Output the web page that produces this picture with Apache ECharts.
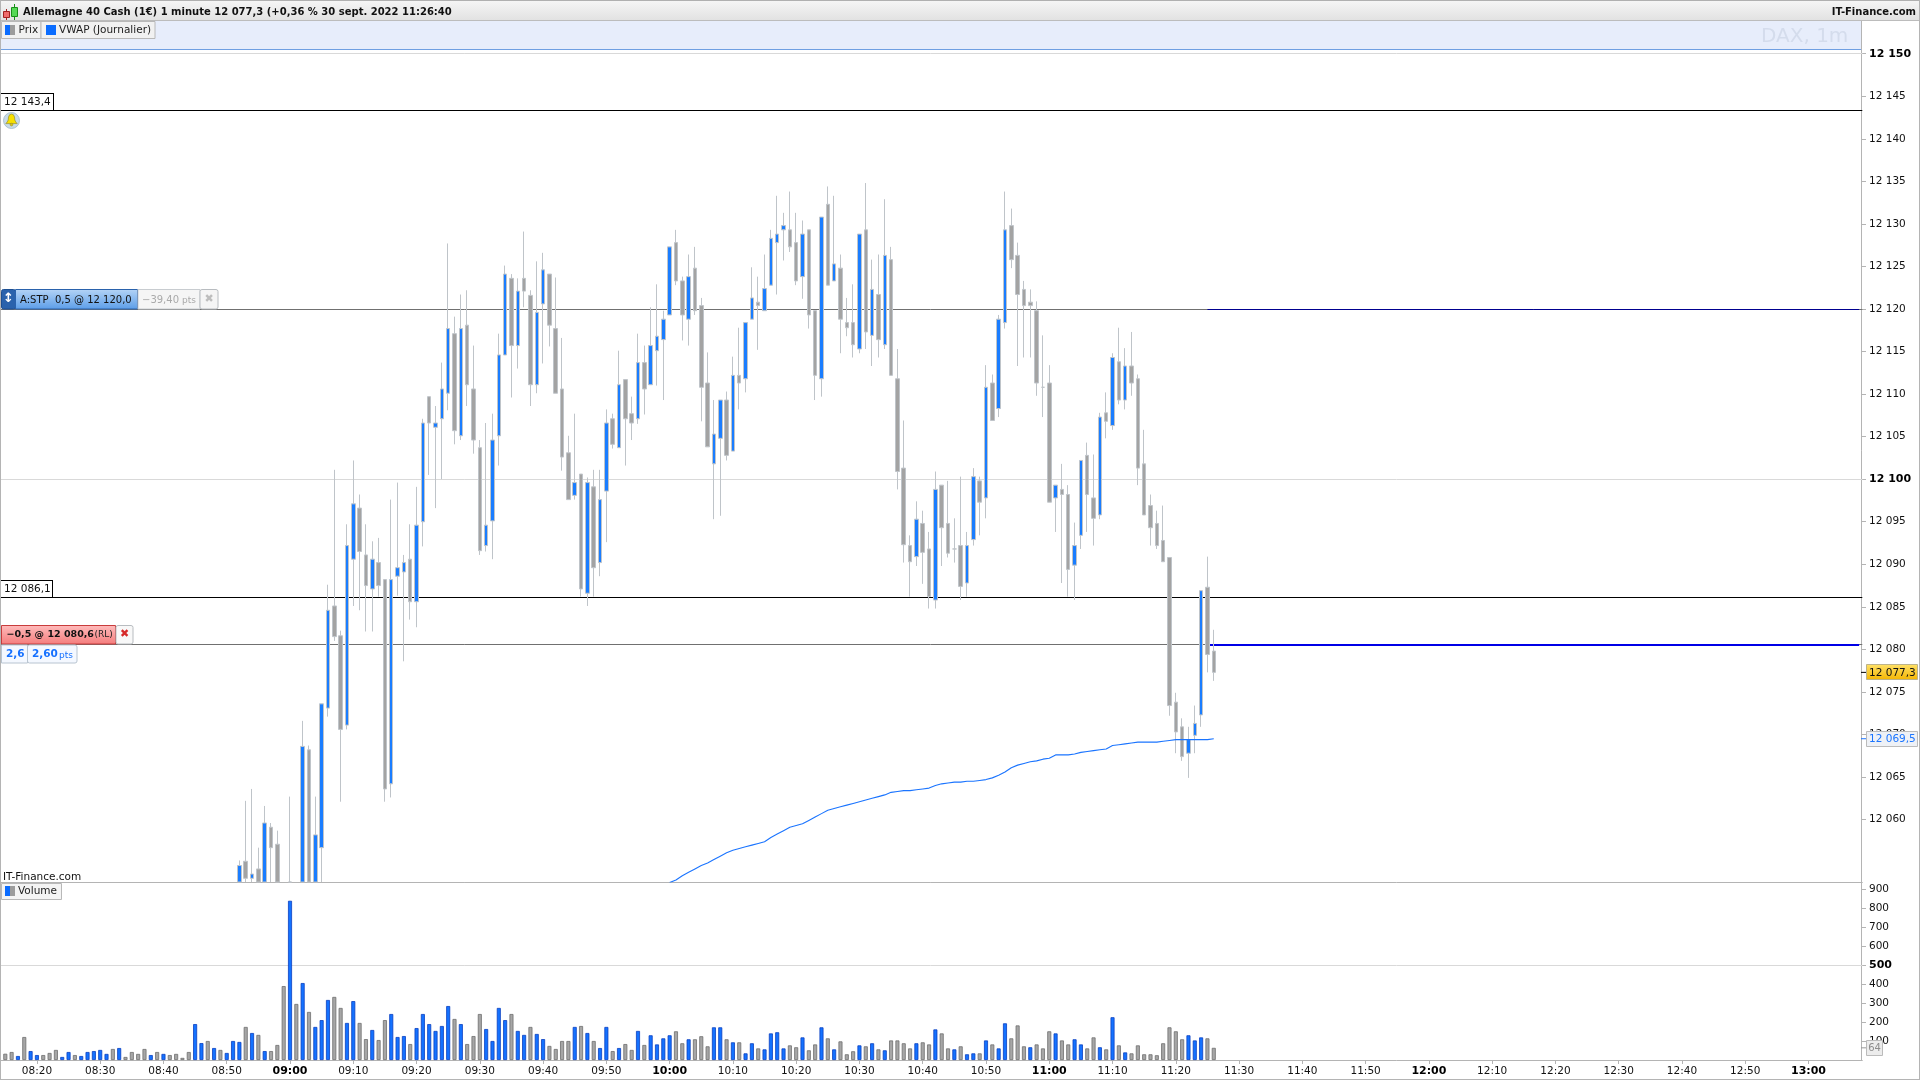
<!DOCTYPE html>
<html>
<head>
<meta charset="utf-8">
<title>Allemagne 40 Cash</title>
<script src="https://cdn.jsdelivr.net/npm/echarts@6/dist/echarts.min.js"></script>
<style>html,body{margin:0;padding:0;background:#fff}#c{width:1920px;height:1080px}</style>
</head>
<body>
<div id="c"></div>
<script>
// first category is 08:14; every bar is one minute
var startMinute = 494, categoryCount = 295;
var candleStart = 532, volumeStart = 495, vwapStart = 600;

var timeTicks = ['08:20','08:30','08:40','08:50','09:00','09:10','09:20','09:30','09:40','09:50','10:00','10:10','10:20','10:30','10:40','10:50','11:00','11:10','11:20','11:30','11:40','11:50','12:00','12:10','12:20','12:30','12:40','12:50','13:00'];
var priceTicks = [12060,12065,12070,12075,12080,12085,12090,12095,12100,12105,12110,12115,12120,12125,12130,12135,12140,12145,12150];
var volumeTicks = [100,200,300,400,500,600,700,800,900];

// open, close, low, high from 08:52 (null: entirely under the visible pane)
var candles = [
[12050,12054.6,12049,12055.2],[12055.1,12053.1,12051,12062.2],[12053.1,12053.6,12050,12063.6],[12054.2,12050,12049,12056.7],
[12050,12059.6,12049,12061.6],[12059.1,12056.7,12051,12059.6],[12057.1,12050,12049,12058.7],null,
[12044,12048,12042,12062.7],null,[12050,12068.6,12049,12071.6],[12068.2,12050,12049,12068.7],
[12050,12058.2,12049,12062.7],[12056.7,12073.6,12050,12073.6],[12073.1,12084.6,12072.1,12087.6],[12085.1,12081.5,12081,12101.1],
[12081.6,12070.6,12062.1,12082.2],[12071.1,12092.2,12070.6,12094.7],[12090.6,12097.1,12085.1,12102.2],[12096.6,12091.5,12084.6,12098.2],
[12091.1,12087.5,12082.1,12094.7],[12087.1,12090.6,12082.1,12092.7],[12090.2,12087.5,12086.2,12093.1],[12088.2,12063.6,12062.1,12088.2],
[12064.2,12088.2,12062.6,12097.6],[12088.6,12089.6,12086.3,12099.6],[12089.1,12090.2,12078.6,12091.1],[12090.6,12085.6,12083.5,12094.7],
[12085.6,12094.6,12082.6,12099.1],[12095,12106.6,12092.1,12107.1],[12109.7,12106.6,12100.5,12109.7],[12106.1,12106.6,12096.6,12108.6],
[12107.1,12110.6,12100,12113.7],[12110.1,12117.7,12108.1,12127.7],[12117.1,12105.7,12104.1,12119.1],[12105.1,12117.7,12104.6,12121.7],
[12118.1,12111.1,12108.6,12122.2],[12110.6,12104.6,12103,12115.7],[12103.7,12091.6,12091.1,12104.6],[12092.2,12094.6,12091.5,12106.6],
[12095.1,12104.6,12090.6,12107.7],[12105.1,12114.6,12101.6,12117.1],[12114.6,12124.1,12114.6,12125.1],[12123.6,12115.7,12109.6,12124.1],
[12115.7,12122.1,12113,12123.6],[12123.6,12122.1,12120.2,12129.1],[12121.6,12111.1,12108.6,12122.2],[12111.1,12119.6,12110.1,12125.6],
[12120.6,12124.6,12113.6,12126.6],[12124.1,12118.1,12115.6,12124.1],[12117.7,12110.1,12110.1,12123.7],[12110.6,12102.6,12101,12116.6],
[12103.1,12097.6,12097.6,12105.1],[12098.1,12099.6,12097.6,12107.7],[12100.6,12087.1,12086.2,12100.6],[12086.6,12099.6,12085.1,12100.2],
[12099.1,12089.6,12086.2,12101.1],[12090.2,12097.6,12088.6,12101.1],[12098.6,12106.6,12092.6,12108.2],[12107.1,12104.1,12103.6,12107.7],
[12103.7,12111.1,12103.7,12115.1],[12111.7,12107.1,12101.6,12111.7],[12107.7,12106.6,12104.6,12109.7],[12107.1,12113.7,12106.5,12117.1],
[12113.7,12110.6,12107.6,12115.7],[12111.1,12115.7,12111.1,12120.2],[12115.1,12116.8,12111,12122.9],[12116.4,12118.8,12109.3,12119.8],
[12119.3,12127.3,12119.3,12127.3],[12127.8,12123.3,12122.8,12129.3],[12123.3,12119.3,12116.3,12123.8],[12118.8,12123.8,12115.7,12126.4],
[12124.8,12119.8,12119.3,12127.3],[12120.4,12110.8,12106.8,12121.3],[12111.3,12103.8,12103.8,12114.9],[12101.8,12105.3,12095.3,12109.3],
[12104.8,12109.3,12095.7,12109.3],[12109.3,12102.8,12102.2,12110.3],[12103.3,12112.2,12103.3,12114.4],[12112.2,12111.3,12108.2,12117.8],
[12111.8,12118.4,12110.2,12118.4],[12118.8,12121.3,12118.8,12124.9],[12120.8,12120.4,12115.2,12123.8],[12119.8,12122.4,12119.8,12126.4],
[12122.8,12128.3,12122.8,12129.3],[12127.8,12128.8,12121.7,12133.3],[12129.3,12129.8,12125.7,12131.3],[12129.3,12127.3,12126.7,12133.8],
[12127.8,12123.3,12122.8,12131.3],[12123.8,12128.8,12121.2,12130.4],[12129.3,12119.3,12117.7,12129.3],[12119.8,12112.2,12109.3,12119.8],
[12111.8,12130.8,12109.7,12130.8],[12132.3,12122.8,12122.8,12134.4],[12123.3,12125.3,12123.3,12133.3],[12124.8,12118.8,12114.8,12126.4],
[12118.4,12117.8,12116.8,12121.3],[12118.4,12115.8,12114.3,12122.9],[12115.3,12128.8,12114.8,12128.8],[12129.3,12117.3,12115.3,12134.8],
[12116.9,12122.3,12113.3,12125.8],[12121.7,12116.4,12114.3,12126.4],[12115.8,12126.3,12115.3,12132.9],[12125.8,12112.2,12112.2,12127.3],
[12111.8,12100.9,12098.8,12115.3],[12101.3,12092.3,12090.2,12106.9],[12092.2,12090.3,12086.2,12093.4],[12090.9,12095.3,12089.8,12097.4],
[12094.8,12091.4,12087.7,12096.3],[12091.8,12086.2,12084.8,12093.8],[12085.8,12098.8,12084.8,12100.9],[12099.3,12094.3,12089.8,12099.3],
[12094.8,12091.3,12090.8,12099.8],[12091.8,12091.8,12090.2,12095.4],[12092.2,12087.4,12085.8,12100.3],[12087.8,12092.2,12086.2,12093.8],
[12092.9,12100.3,12092.2,12101.3],[12099.8,12097.3,12093.4,12100.3],[12097.8,12110.8,12095.4,12113.4],[12111.3,12106.9,12106.9,12112.3],
[12108.3,12118.8,12107.3,12119.3],[12118.4,12129.3,12117.7,12133.8],[12129.8,12125.8,12124.8,12131.8],[12126.3,12121.7,12113.3,12127.8],
[12122.3,12120.4,12114.3,12123.3],[12120.8,12120.4,12114.3,12122.3],[12119.8,12111.3,12109.8,12120.9],[12110.8,12110.8,12107.3,12116.9],
[12111.3,12097.3,12097.3,12113.4],[12097.8,12099.3,12093.8,12099.3],[12098.8,12098.2,12087.8,12101.8],[12098.2,12089.4,12086.2,12099.3],
[12089.9,12092.2,12085.8,12094.9],[12093.4,12102.2,12091.8,12102.2],[12102.8,12098.2,12093.8,12104.3],[12097.8,12095.4,12092.2,12102.9],
[12095.8,12107.3,12095.3,12107.8],[12107.8,12106.8,12104.8,12110.2],[12106.3,12114.3,12105.8,12114.8],[12113.8,12109.3,12108.8,12117.8],
[12109.3,12113.3,12108.2,12115.4],[12113.3,12111.3,12109.8,12117.3],[12111.8,12101.3,12099.3,12112.3],[12101.8,12095.8,12095.8,12105.8],
[12096.9,12094.3,12092.2,12098.2],[12094.8,12092.2,12091.8,12096.3],[12092.8,12090.3,12090.3,12096.9],[12090.8,12073.4,12072.2,12090.8],
[12073.8,12070.3,12067.8,12074.9],[12070.9,12067.4,12066.9,12071.9],[12067.8,12069.4,12064.9,12070.9],[12069.9,12071.3,12067.8,12073.4],
[12072.3,12086.9,12070.9,12086.9],[12087.3,12079.4,12077.3,12090.9],[12079.8,12077.3,12076.3,12082.3]
];

// volume per minute from 08:15
var volumes = [
33,42,21,121,47,26,26,37,53,16, 42,26,21,42,47,53,32,58,63,16,
42,32,58,26,42,32,26,32,11,42, 189,89,100,63,53,37,100,95,174,142,
132,47,47,79,389,838,295,405,253,174, 210,316,332,274,195,310,195,110,158,105,
210,242,121,126,84,168,242,189,153,179, 284,216,189,84,126,242,163,100,274,210,
242,153,132,174,137,110,74,58,100,100, 174,179,142,100,63,174,47,63,84,53,
153,79,130,82,114,130,151,88,109,109, 125,72,172,172,109,93,93,35,88,61,
56,140,146,61,77,67,119,51,82,172, 114,56,98,30,46,77,72,88,56,51,
103,103,88,61,88,93,82,161,140,61, 56,72,30,35,35,103,82,61,193,114,
182,72,67,82,61,151,140,103,82,109, 82,61,119,67,56,225,77,40,35,77,
30,30,25,88,172,151,109,130,103,119, 114,64
];
// b = blue bar, g = grey bar, same order as volumes
var volumeSides = 'ggbgbbgggb'+'bgbbbbbgbg'+'gggbgbgggg'+'bbgbgbbbgb'+'gbgggbgbgb'+'bbggbbggbg'+'gbbbgbbbbb'+'bgbgggbbbb'+'gbbgbbgggg'+'bgbgbbgbgg'+'bgbbbbggbg'+'ggbbgbgbbg'+'bbbbggbggb'+'gbgggbgbgb'+'ggggbggbgg'+'bgbbgbgbbg'+'ggbgggbggb'+'bggbgbgbgg'+'gggggggbbb'+'gg';

// VWAP from 10:00
var vwap = [
12052.6,12052.9,12053.4,12053.8,12054.2,12054.6,12054.9,12055.3,12055.7,12056.1,
12056.4,12056.6,12056.8,12057.0,12057.2,12057.4,12057.9,12058.3,12058.7,12059.1,
12059.3,12059.5,12059.9,12060.3,12060.7,12061.1,12061.3,12061.5,12061.7,12061.9,
12062.1,12062.3,12062.5,12062.7,12062.9,12063.2,12063.3,12063.4,12063.4,12063.5,
12063.6,12063.7,12064.0,12064.2,12064.3,12064.4,12064.4,12064.5,12064.5,12064.6,
12064.7,12064.9,12065.2,12065.6,12066.1,12066.4,12066.6,12066.8,12066.9,12067.1,
12067.2,12067.6,12067.6,12067.6,12067.7,12067.9,12068.0,12068.1,12068.2,12068.3,
12068.7,12068.8,12068.9,12069.0,12069.1,12069.1,12069.1,12069.1,12069.2,12069.3,
12069.4,12069.4,12069.4,12069.4,12069.4,12069.4,12069.5
];

var paneMin = 12052.665, paneMax = 12153.995;
var levelHigh = 12143.4, levelLow = 12086.1, stopLevel = 12120, entryLevel = 12080.6, lastPrice = 12077.3, lastVwap = 12069.5, lastVolume = 64;
var priceGrids = [12150, 12100];
var volumeGrid = 500;

function two(n){ return (n<10?'0':'')+n; }
function label(m){ return two(Math.floor(m/60))+':'+two(m%60); }
var times = [];
for (var i=0;i<categoryCount;i++) times.push(label(startMinute+i));

var candleData = times.map(function(t,i){
  var row = candles[startMinute+i-candleStart];
  // the price pane crops anything under its lower edge
  return row ? row.map(function(v){ return Math.max(v,paneMin); }) : ['-','-','-','-'];
});
var volumeData = times.map(function(t,i){
  var k = startMinute+i-volumeStart;
  if (k<0 || k>=volumes.length) return '-';
  var blue = volumeSides.charAt(k)==='b';
  return {value:volumes[k], itemStyle:{
    color: blue?'#1472ff':'#a6a6a6',
    borderColor: blue?'#0a3fc0':'#6e6e6e'
  }};
});
var vwapData = times.map(function(t,i){
  var k = startMinute+i-vwapStart;
  return (k<0||k>=vwap.length)?null:vwap[k];
});
var prevTime = label(685), endTime = times[times.length-1];

var FONT = '"DejaVu Sans"';
function groupPrice(v){ var s=String(v); return s.slice(0,2)+' '+s.slice(2); }
function hline(v,color,w){ return {yAxis:v,lineStyle:{color:color,width:w,type:'solid'}}; }
function segment(v,color,w){ return [{xAxis:prevTime,yAxis:v,lineStyle:{color:color,width:w,type:'solid'}},{xAxis:endTime,yAxis:v}]; }

var isTickLabel = function(idx,val){ return timeTicks.indexOf(val)>=0; };

var option = {
  animation:false,
  backgroundColor:'#ffffff',
  textStyle:{fontFamily:FONT},
  grid:[
    {left:-4.2,width:1866.5,top:19.7,height:862.3,outerBoundsMode:'none'},
    {left:-4.2,width:1866.5,top:883,height:177,outerBoundsMode:'none'}
  ],
  xAxis:[
    {type:'category',gridIndex:0,data:times,boundaryGap:true,
     axisLine:{show:true,lineStyle:{color:'#b4b4b4',width:1}},axisTick:{show:false},axisLabel:{show:false},splitLine:{show:false}},
    {type:'category',gridIndex:1,data:times,boundaryGap:true,
     axisLine:{show:true,lineStyle:{color:'#b4b4b4',width:1}},
     axisTick:{show:true,alignWithLabel:true,interval:isTickLabel,length:4,lineStyle:{color:'#b4b4b4'}},
     axisLabel:{show:true,interval:isTickLabel,margin:6,hideOverlap:false,
       formatter:function(v){ return /:00$/.test(v)?'{b|'+v+'}':'{n|'+v+'}'; },
       rich:{n:{fontFamily:FONT,fontSize:10.5,color:'#111'},b:{fontFamily:FONT,fontSize:11,fontWeight:'bold',color:'#000'}}},
     splitLine:{show:false}}
  ],
  yAxis:[
    {type:'value',gridIndex:0,position:'right',offset:-1.3,min:paneMin,max:paneMax,scale:true,
     axisLine:{show:true,lineStyle:{color:'#b4b4b4',width:1}},
     axisTick:{show:true,length:5,lineStyle:{color:'#b4b4b4'},customValues:priceTicks},
     axisLabel:{show:true,margin:8,customValues:priceTicks,hideOverlap:false,showMinLabel:true,showMaxLabel:true,
       formatter:function(v){ var s=groupPrice(Math.round(v)); return v%50===0?'{b|'+s+'}':'{n|'+s+'}'; },
       rich:{n:{fontFamily:FONT,fontSize:10.5,color:'#111'},b:{fontFamily:FONT,fontSize:11,fontWeight:'bold',color:'#000'}}},
     splitLine:{show:false}},
    {type:'value',gridIndex:1,position:'right',offset:-1.3,min:0,max:931.6,
     axisLine:{show:true,lineStyle:{color:'#b4b4b4',width:1}},
     axisTick:{show:true,length:5,lineStyle:{color:'#b4b4b4'},customValues:volumeTicks},
     axisLabel:{show:true,margin:8,customValues:volumeTicks,hideOverlap:false,
       formatter:function(v){ return v===500?'{b|500}':'{n|'+v+'}'; },
       rich:{n:{fontFamily:FONT,fontSize:10.5,color:'#111'},b:{fontFamily:FONT,fontSize:11,fontWeight:'bold',color:'#000'}}},
     splitLine:{show:false}}
  ],
  series:[
    {type:'candlestick',name:'Prix',xAxisIndex:0,yAxisIndex:0,data:candleData,barWidth:4,clip:true,z:3,
     itemStyle:{color:'#1a7dff',color0:'#a3a3a3',borderColor:'#bfc4c9',borderColor0:'#bfc4c9',borderColorDoji:'#bfc4c9',borderWidth:1},
     markLine:{silent:true,symbol:'none',animation:false,label:{show:false},z:2,
       data:[
         hline(priceGrids[0],'#d9d9d9',1), hline(priceGrids[1],'#d9d9d9',1),
         hline(levelHigh,'#000000',1.2), hline(levelLow,'#000000',1.2),
         hline(stopLevel,'#707070',1), hline(entryLevel,'#707070',1),
         segment(stopLevel,'#000090',1), segment(entryLevel,'#0000e6',2)
       ]}},
    {type:'line',name:'VWAP (Journalier)',xAxisIndex:0,yAxisIndex:0,data:vwapData,showSymbol:false,symbol:'none',smooth:false,connectNulls:false,clip:true,z:4,
     lineStyle:{color:'#1a74ff',width:1.1}},
    {type:'bar',name:'Volume',xAxisIndex:1,yAxisIndex:1,data:volumeData,barWidth:4,clip:true,
     itemStyle:{borderWidth:0.8},
     markLine:{silent:true,symbol:'none',animation:false,label:{show:false},z:1,
       data:[hline(volumeGrid,'#d9d9d9',1)]}}
  ]
};

var chart = echarts.init(document.getElementById('c'),null,{renderer:'canvas',width:1920,height:1080});
chart.setOption(option);

var LG = echarts.graphic.LinearGradient;
function grad(a,b){ return new LG(0,0,0,1,[{offset:0,color:a},{offset:1,color:b}]); }
function R(x,y,w,h,fill,stroke,z,r){ return {type:'rect',silent:true,z:z||100,shape:{x:x,y:y,width:w,height:h,r:r||0},style:{fill:fill||'transparent',stroke:stroke||null,lineWidth:1}}; }
function T(x,y,s,font,fill,align){ return {type:'text',silent:true,z:102,x:x,y:y,style:{text:s,font:font,fill:fill||'#000',align:align||'left',verticalAlign:'middle'}}; }
function L(x1,y1,x2,y2,c,w){ return {type:'line',silent:true,z:101,shape:{x1:x1,y1:y1,x2:x2,y2:y2},style:{stroke:c,lineWidth:w||1}}; }
var F = '10.5px "DejaVu Sans"', F10='10px "DejaVu Sans"', FB='bold 10.5px "DejaVu Sans"';

function yP(v){ return chart.convertToPixel({yAxisIndex:0},v); }
function yV(v){ return chart.convertToPixel({yAxisIndex:1},v); }
function fmt(v){ var s=v.toFixed(1).replace('.',','); return s.slice(0,2)+' '+s.slice(2); }

var yHigh=Math.round(yP(levelHigh)), yLow=Math.round(yP(levelLow)), yLast=yP(lastPrice), yVw=yP(lastVwap), yVol=yV(lastVolume);

var g = [
  // page frame + header
  R(0,0,1920,20,grad('#f6f6f6','#e2e2e2'),null,99),
  L(0,0.5,1920,0.5,'#b0b0b0'), L(0,20.5,1920,20.5,'#bcbcbc'),
  L(0.5,0,0.5,1080,'#b4b4b4'), L(1919.5,0,1919.5,1080,'#b4b4b4'), L(0,1079.5,1920,1079.5,'#b4b4b4'),
  // header icon
  L(6.5,9,6.5,20,'#a02020'), R(3.5,11.5,6,6,'#ee6b6b','#a02020',102),
  L(14.5,4,14.5,20,'#189018'), R(11.5,7.5,6,9,'#55d955','#189018',102),
  T(23,12.5,'Allemagne 40 Cash (1€) 1 minute 12 077,3 (+0,36 % 30 sept. 2022 11:26:40','bold 10px "DejaVu Sans"','#111'),
  T(1916,12.5,'IT-Finance.com','bold 10px "DejaVu Sans"','#111','right'),
  // legend band
  R(1,21,1860,28,'#e7edfb',null,99),
  L(1,49.5,1861,49.5,'#6f9fe2'),
  T(1761,37,'DAX, 1m','20px "DejaVu Sans"','#d4dcec'),
  R(1.5,21.5,39.5,17,'#f1f1f1','#b8b8b8',100), R(41,21.5,114,17,'#f1f1f1','#b8b8b8',100),
  R(5,25,5,10,'#0a6cff',null,101), R(10,25,5,10,'#9c9c9c',null,101),
  T(18.5,30,'Prix',F,'#222'),
  R(46,25,10,10,'#0a6cff',null,101),
  T(59,30,'VWAP (Journalier)',F,'#222'),
  // volume legend and watermark
  R(1.5,883.5,60,16,'#f4f4f4','#b8b8b8',100),
  R(5,886,5,10,'#0a6cff',null,101), R(10,886,5,10,'#9c9c9c',null,101),
  T(18,891.5,'Volume',F,'#222'),
  T(3,877,'IT-Finance.com',F,'#111'),
  // high / low level tags
  R(1,yHigh-17,53,17,'#fff',null,100), L(1,yHigh-16.5,54,yHigh-16.5,'#000'), L(53.5,yHigh-17,53.5,yHigh,'#000'),
  T(4,yHigh-8,fmt(levelHigh),F,'#111'),
  R(1,yLow-17,52,17,'#fff',null,100), L(1,yLow-16.5,53,yLow-16.5,'#000'), L(52.5,yLow-17,52.5,yLow,'#000'),
  T(4,yLow-8,fmt(levelLow),F,'#111'),
  // bell
  {type:'circle',silent:true,z:101,shape:{cx:11.5,cy:120.5,r:8},style:{fill:'#c8dbe8',stroke:'#9fb7c8',lineWidth:0.8}},
  {type:'polygon',silent:true,z:102,shape:{points:[[11.5,114],[9.5,114.8],[8.5,117],[8.2,120],[7.2,122],[5.8,123.6],[17.2,123.6],[15.8,122],[14.8,120],[14.5,117],[13.5,114.8]]},style:{fill:'#f7e000',stroke:'#8c8420',lineWidth:0.6}},
  {type:'circle',silent:true,z:102,shape:{cx:11.5,cy:124.6,r:1.4},style:{fill:'#d8c414',stroke:'#8c8420',lineWidth:0.5}},
  // stop order tag
  R(1.5,289.5,14,19.5,'#2a62ac','#1d4f92',100,2),
  T(8.5,299,'↕','bold 13px "DejaVu Sans"','#fff','center'),
  R(15.5,289.5,122,19.5,grad('#b5d4f6','#5b9de8'),'#2a62ac',100),
  T(20,300,'A:STP  0,5 @ 12 120,0',F10,'#111'),
  R(138,289.5,62,19.5,'#f5f5f5','#c8ccd0',100),
  T(142,300,'−39,40',F10,'#aaa'), T(182,301,'pts','9px "DejaVu Sans"','#aaa'),
  R(200,289.5,18,19.5,'#f5f5f5','#b8bcc0',100,2),
  T(209,299,'✖','11px "DejaVu Sans"','#bdbdbd','center'),
  // position tag
  R(1.5,625.5,114,18.5,grad('#ffbcbc','#f47c7c'),'#c83c3c',100),
  T(6.5,635,'−0,5 @ 12 080,6','bold 9.5px "DejaVu Sans"','#111'), T(94.5,634.5,'(RL)','9px "DejaVu Sans"','#222'),
  R(116,625.5,17,18.5,'#f8f8f8','#b8bcc0',100,2),
  T(124.5,634.5,'✖','11px "DejaVu Sans"','#d62a2a','center'),
  R(1.5,645,26,18,'#f4f8ff','#b8c4d0',100), R(27.5,645,49.5,18,'#f4f8ff','#b8c4d0',100,2),
  T(6,654.5,'2,6',FB,'#1570ff'), T(32,654.5,'2,60',FB,'#1570ff'), T(59,655.5,'pts','9px "DejaVu Sans"','#1570ff'),
  // last-value tags on the axes
  L(1861,yLast,1866,yLast,'#000'),
  R(1866.5,Math.round(yLast)-7.5,51,15,grad('#ffe26a','#f5b500'),'#bdb38a',100),
  T(1869,yLast+0.5,fmt(lastPrice),F,'#111'),
  L(1861,yVw,1866,yVw,'#1a74ff'),
  R(1866.5,Math.round(yVw)-7.5,51,15,'#eef1f6','#bbbbbb',100),
  T(1869,yVw+0.5,fmt(lastVwap),F,'#1a74ff'),
  L(1861,yVol,1866,yVol,'#999'),
  R(1866.5,Math.round(yVol)-7.5,16,15,'#ececec','#bbbbbb',100),
  T(1874.5,yVol+0.5,String(lastVolume),'10px "DejaVu Sans"','#8c8c8c','center')
];
chart.setOption({graphic:{elements:g}});
</script>
</body>
</html>
